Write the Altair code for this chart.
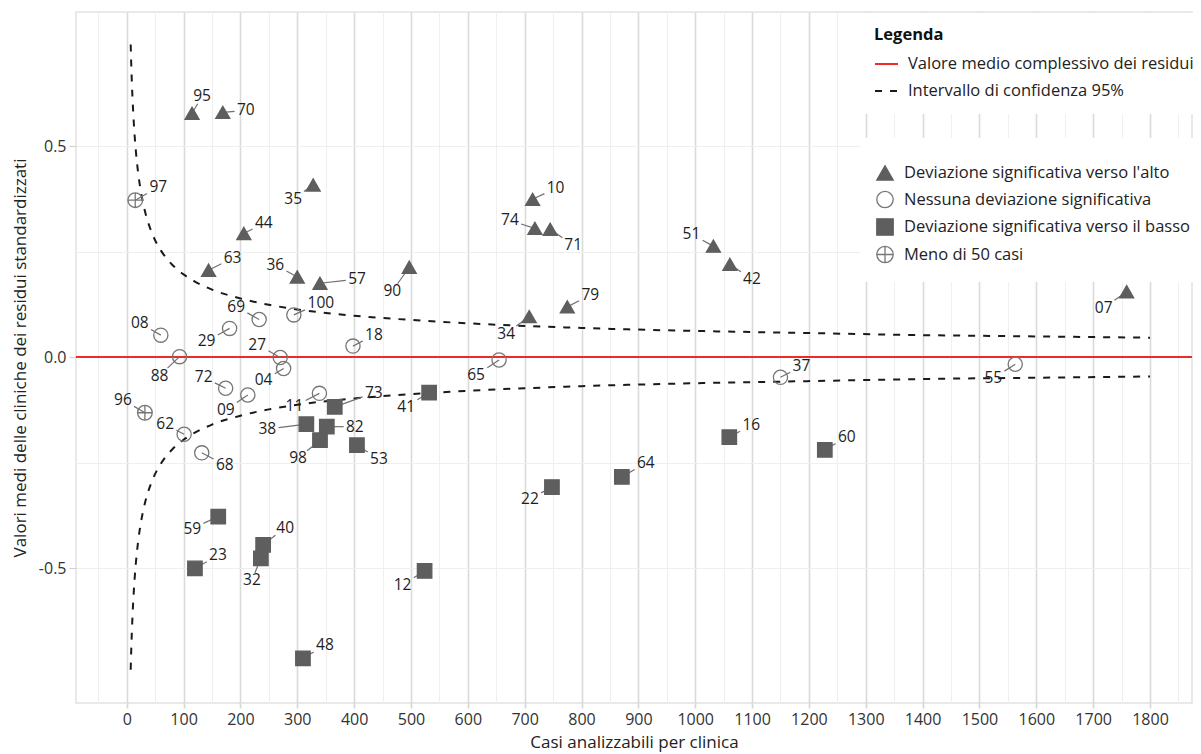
import altair as alt
import pandas as pd

FONT = "Open Sans"
UP = "Deviazione significativa verso l'alto"
NO = "Nessuna deviazione significativa"
DOWN = "Deviazione significativa verso il basso"
FEW = "Meno di 50 casi"
MEAN = "Valore medio complessivo dei residui"
CI = "Intervallo di confidenza 95%"
CATS = [UP, NO, DOWN, FEW]

# ---- data ----
clinica = ["95", "70", "35", "44", "63", "36", "57", "90", "10", "74", "71", "51", "42", "79", "34", "07",
           "08", "29", "69", "100", "18", "88", "27", "04", "72", "09", "11", "62", "68", "65", "37", "55",
           "97", "96",
           "73", "38", "82", "98", "53", "41", "59", "23", "40", "32", "12", "48", "16", "60", "22", "64"]
casi = [115, 169, 328, 206, 144, 300, 340, 497, 714, 718, 745, 1032, 1061, 775, 708, 1759,
        60, 181, 233, 294, 398, 93, 270, 276, 174, 213, 339, 101, 132, 655, 1150, 1563,
        15, 32,
        366, 316, 352, 340, 405, 532, 161, 120, 240, 236, 524, 310, 1060, 1228, 748, 871]
residui = [0.578, 0.580, 0.408, 0.293, 0.206, 0.190, 0.175, 0.213, 0.374, 0.305, 0.303, 0.263, 0.220, 0.119, 0.096, 0.155,
           0.052, 0.068, 0.089, 0.100, 0.026, 0.001, -0.001, -0.027, -0.074, -0.090, -0.086, -0.183, -0.227, -0.007, -0.048, -0.017,
           0.372, -0.132,
           -0.118, -0.159, -0.165, -0.197, -0.209, -0.084, -0.378, -0.501, -0.445, -0.477, -0.507, -0.714, -0.190, -0.220, -0.308, -0.284]
categoria = [UP] * 16 + [NO] * 16 + [FEW] * 2 + [DOWN] * 16

# confidence band
ci_n = [7, 8, 9, 10, 12, 14, 16, 18, 20, 25, 30, 35, 40, 50, 60, 70, 80, 100, 120, 150,
        200, 250, 300, 400, 500, 600, 800, 1000, 1200, 1400, 1600, 1800]
ci_upper = [0.741, 0.693, 0.653, 0.620, 0.566, 0.524, 0.490, 0.462, 0.438, 0.392, 0.358, 0.331, 0.310, 0.277,
            0.253, 0.234, 0.219, 0.196, 0.179, 0.160, 0.139, 0.124, 0.113, 0.098, 0.088, 0.080, 0.069, 0.062,
            0.057, 0.052, 0.049, 0.046]
ci_lower = [-0.741, -0.693, -0.653, -0.620, -0.566, -0.524, -0.490, -0.462, -0.438, -0.392, -0.358, -0.331, -0.310,
            -0.277, -0.253, -0.234, -0.219, -0.196, -0.179, -0.160, -0.139, -0.124, -0.113, -0.098, -0.088, -0.080,
            -0.069, -0.062, -0.057, -0.052, -0.049, -0.046]
media = [0.0]

x_ticks = list(range(-50, 1851, 50))
y_ticks = [-0.5, -0.25, 0.0, 0.25, 0.5]

# ---- label layout (pixel offsets of each label from its point) ----
lab_dx = [10, 23, -20, 20, 24, -22, 37, -17, 23, -25, 23, -22, 22, 23, -23, -23,
          -21, -23, -23, 27, 21, -20, -23, -20, -22, -22, -25, -19, 23, -23, 21, -22,
          23, -22,
          39, -39, 28, -22, 22, -23, -26, 23, 22, -9, -22, 22, 22, 22, -22, 24]
lab_dy = [-17, -2, 14, -10, -12, -12, -4, 24, -11, -8, 16, -12, 15, -12, 17, 16,
          -12, 13, -13, -12, -11, 19, -13, 12, -11, 15, 13, -10, 12, 15, -11, 14,
          -13, -13,
          -14, 5, 0, 18, 14, 14, 12, -13, -17, 22, 14, -13, -12, -13, 12, -14]

X_DOMAIN = [-89.2, 1873.9]
Y_DOMAIN = [-0.82, 0.818]
W, H = 1116, 691
kx = W / (X_DOMAIN[1] - X_DOMAIN[0])
ky = H / (Y_DOMAIN[1] - Y_DOMAIN[0])

rows = []
for c, n, r, cat, dx, dy in zip(clinica, casi, residui, categoria, lab_dx, lab_dy):
    hw = 4.6 * len(c) + 2
    hh = 7.5
    s = min(hw / abs(dx) if dx else 1e9, hh / abs(dy) if dy else 1e9)
    f = max(0.0, 1 - s)
    rows.append(dict(clinica=c, n=n, res=r, cat=cat,
                     lx=n + dx / kx, ly=r - dy / ky,
                     sx=n + f * dx / kx, sy=r - f * dy / ky))
pts = pd.DataFrame(rows)

ci_df = pd.concat([
    pd.DataFrame({"n": ci_n, "res": ci_upper, "lato": "sup", "serie": CI}),
    pd.DataFrame({"n": ci_n, "res": ci_lower, "lato": "inf", "serie": CI}),
])
mean_df = pd.DataFrame({"res": media, "serie": [MEAN]})

# ---- scales / axes ----
xs = alt.Scale(domain=X_DOMAIN, nice=False, zero=False)
ys = alt.Scale(domain=Y_DOMAIN, nice=False, zero=False)

MAJ_X = "datum.value % 100 === 0"
LAB_X = "datum.value % 100 === 0 && datum.value >= 0 && datum.value <= 1800"
x_axis = alt.Axis(
    values=x_ticks, format="d",
    labelExpr=f"({LAB_X}) ? datum.label : ''",
    gridColor={"condition": {"test": MAJ_X, "value": "#dadada"}, "value": "#efefef"},
    gridWidth={"condition": {"test": MAJ_X, "value": 1.6}, "value": 1},
    tickColor="#d6d6d6", tickWidth=1.6, tickSize=5,
    tickOpacity={"condition": {"test": LAB_X, "value": 1}, "value": 0},
    domain=False, labelFontSize=16, labelColor="#333333", labelPadding=3,
    labelOverlap=False, labelFlush=False,
    titleFontSize=17, titleFontWeight="normal", titleColor="#222222", titlePadding=7,
)
MAJ_Y = "abs(datum.value * 2 - round(datum.value * 2)) < 0.000001"
y_axis = alt.Axis(
    values=y_ticks,
    labelExpr=f"({MAJ_Y}) ? ((datum.value < 0 ? '-' : '') + format(abs(datum.value), '.1f')) : ''",
    gridColor="#efefef", gridWidth=1,
    tickColor="#d0d0d0", tickWidth=1.2, tickSize=7,
    tickOpacity={"condition": {"test": MAJ_Y, "value": 1}, "value": 0},
    domain=False, labelFontSize=16, labelColor="#333333", labelPadding=3,
    labelOverlap=False,
    titleFontSize=17, titleFontWeight="normal", titleColor="#222222", titlePadding=9,
)
X_TITLE = "Casi analizzabili per clinica"
Y_TITLE = "Valori medi delle cliniche dei residui standardizzati"


def X(field):
    return alt.X(f"{field}:Q", scale=xs, axis=x_axis, title=X_TITLE)


def Y(field):
    return alt.Y(f"{field}:Q", scale=ys, axis=y_axis, title=Y_TITLE)


line_leg = alt.Legend(
    title="Legenda", orient="none", legendX=784, legendY=1, fillColor="white", padding=14,
    symbolType="stroke", symbolSize=529, symbolStrokeWidth=2,
    labelFontSize=16.5, labelColor="#222222", labelOffset=9, labelLimit=500,
    titleFontSize=16.5, titleFontWeight="bold", titleColor="#111111", titlePadding=8,
    rowPadding=6,
)
col = alt.Color("serie:N", scale=alt.Scale(domain=[MEAN, CI], range=["#ee2a2a", "#1a1a1a"]), legend=line_leg)
dash = alt.StrokeDash("serie:N", scale=alt.Scale(domain=[MEAN, CI], range=[[1, 0], [7, 8]]), legend=line_leg)

CROSS = "M-1,0A1,1,0,1,1,1,0A1,1,0,1,1,-1,0ZM-1,0L1,0M0,-1L0,1"
G = "#5e5e5e"
G2 = "#767676"
shape_leg = alt.Legend(
    title=" ", orient="none", legendX=784, legendY=126, fillColor="white", padding=16,
    symbolSize=270, symbolStrokeWidth=1.3,
    labelFontSize=16.5, labelColor="#222222", labelOffset=10, labelLimit=500,
    titleFontSize=8, titlePadding=2, rowPadding=5.5,
)
shp = alt.Shape("cat:N", scale=alt.Scale(domain=CATS, range=["triangle-up", "circle", "square", CROSS]),
                legend=shape_leg)
fil = alt.Fill("cat:N", scale=alt.Scale(domain=CATS, range=[G, "transparent", G, "transparent"]),
               legend=shape_leg)
stk = alt.Stroke("cat:N", scale=alt.Scale(domain=CATS, range=[G, G2, G, G2]),
                 legend=shape_leg)
# marker sizes per category (own domain order so this scale is not merged into the legend)
siz = alt.Size("cat:N", scale=alt.Scale(domain=[FEW, DOWN, NO, UP], range=[215, 196, 215, 300]), legend=None)

ci_layer = alt.Chart(ci_df).mark_line(strokeWidth=2, interpolate="monotone").encode(
    x=X("n"), y=Y("res"), color=col, strokeDash=dash, detail="lato:N")
mean_layer = alt.Chart(mean_df).mark_rule(strokeWidth=2).encode(
    y=Y("res"), color=col, strokeDash=dash)
seg_layer = alt.Chart(pts).mark_rule(color="#707070", strokeWidth=1.2).encode(
    x=X("n"), y=Y("res"), x2="sx:Q", y2="sy:Q")
pt_layer = alt.Chart(pts).mark_point(opacity=1, strokeWidth=1.3).encode(
    x=X("n"), y=Y("res"), shape=shp, fill=fil, stroke=stk, size=siz)
txt_layer = alt.Chart(pts).mark_text(fontSize=15.5, color="#1e1e1e", align="center", baseline="middle").encode(
    x=X("lx"), y=Y("ly"), text="clinica:N")

chart = alt.layer(ci_layer, mean_layer, seg_layer, pt_layer, txt_layer).properties(
    width=W, height=H,
    autosize=alt.AutoSizeParams(type="none"),
    padding={"left": 68, "top": 4, "right": 1, "bottom": 50},
).configure(font=FONT).configure_view(stroke="#e2e2e2", strokeWidth=1.5)

chart.save("out.html", embed_options={"renderer": "svg", "actions": False})
